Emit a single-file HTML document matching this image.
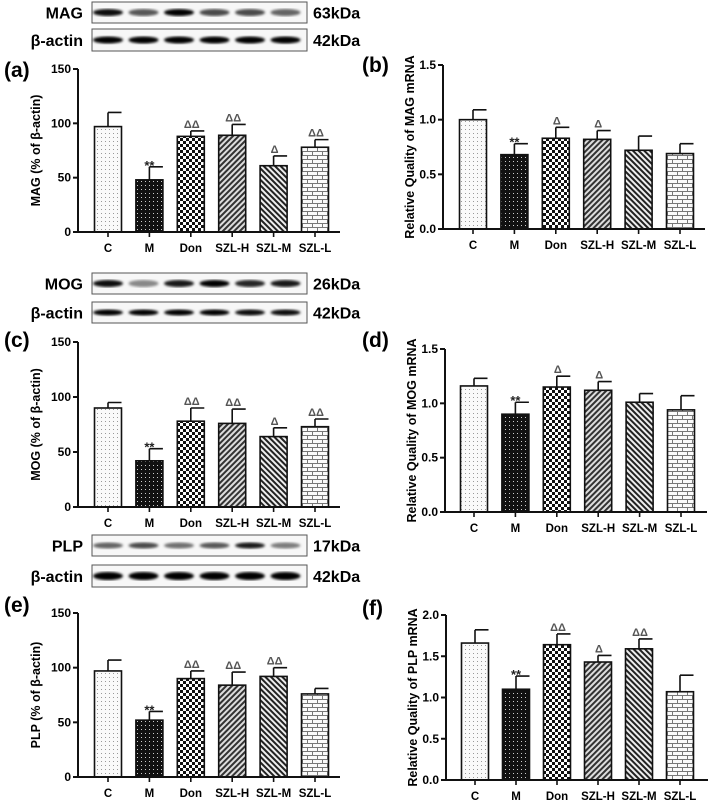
<!DOCTYPE html>
<html><head><meta charset="utf-8">
<style>
html,body{margin:0;padding:0;background:#fff;}
svg{display:block;font-family:"Liberation Sans",Arial,sans-serif;}
text{font-weight:bold;}
</style></head>
<body>
<svg id="fig" width="712" height="803" viewBox="0 0 712 803" xmlns="http://www.w3.org/2000/svg">
<defs>
<pattern id="pC" width="4" height="4" patternUnits="userSpaceOnUse"><rect width="4" height="4" fill="#fafafa"/><rect x="1" y="1" width="1" height="1" fill="#999"/></pattern>
<pattern id="pM" width="4" height="4" patternUnits="userSpaceOnUse"><rect width="4" height="4" fill="#111"/><rect x="1" y="1" width="1" height="1" fill="#ccc"/></pattern>
<pattern id="pDon" width="6" height="6" patternUnits="userSpaceOnUse"><rect width="6" height="6" fill="#fff"/><rect width="3" height="3" fill="#111"/><rect x="3" y="3" width="3" height="3" fill="#111"/></pattern>
<pattern id="pH" width="4" height="4" patternUnits="userSpaceOnUse" patternTransform="rotate(45)"><rect width="4" height="4" fill="#ddd"/><rect width="2" height="4" fill="#333"/></pattern>
<pattern id="pSM" width="4" height="4" patternUnits="userSpaceOnUse" patternTransform="rotate(-45)"><rect width="4" height="4" fill="#eee"/><rect width="2" height="4" fill="#222"/></pattern>
<pattern id="pL" width="10" height="8" patternUnits="userSpaceOnUse"><rect width="10" height="8" fill="#fafafa"/><rect y="3" width="10" height="1" fill="#777"/><rect y="7" width="10" height="1" fill="#777"/><rect x="2" y="0" width="1" height="3" fill="#777"/><rect x="7" y="4" width="1" height="3" fill="#777"/></pattern>
<filter id="blur"><feGaussianBlur stdDeviation="1.4"/></filter>
</defs>
</svg>
<script>
const categories = ["C","M","Don","SZL-H","SZL-M","SZL-L"];
const magWB = [97,48,88,89,61,78];
const magWBErr = [13,12,5,10,9,7];
const magWBSig = ["","**","ΔΔ","ΔΔ","Δ","ΔΔ"];
const magMRNA = [1.0,0.68,0.83,0.82,0.72,0.69];
const magMRNAErr = [0.09,0.1,0.1,0.08,0.13,0.09];
const magMRNASig = ["","**","Δ","Δ","",""];
const mogWB = [90,42,78,76,64,73];
const mogWBErr = [5,11,12,13,8,7];
const mogWBSig = ["","**","ΔΔ","ΔΔ","Δ","ΔΔ"];
const mogMRNA = [1.16,0.90,1.15,1.12,1.01,0.94];
const mogMRNAErr = [0.07,0.11,0.1,0.08,0.08,0.13];
const mogMRNASig = ["","**","Δ","Δ","",""];
const plpWB = [97,52,90,84,92,76];
const plpWBErr = [10,8,7,12,8,5];
const plpWBSig = ["","**","ΔΔ","ΔΔ","ΔΔ",""];
const plpMRNA = [1.66,1.10,1.64,1.43,1.59,1.07];
const plpMRNAErr = [0.16,0.16,0.13,0.08,0.12,0.2];
const plpMRNASig = ["","**","ΔΔ","Δ","ΔΔ",""];
const wbTicks = ["0","50","100","150"];
const mrnaTicks15 = ["0.0","0.5","1.0","1.5"];
const mrnaTicks20 = ["0.0","0.5","1.0","1.5","2.0"];
const magBand = [0.95,0.65,1,0.7,0.7,0.6];
const mogBand = [0.95,0.45,0.9,1,0.85,0.9];
const plpBand = [0.6,0.7,0.55,0.65,0.9,0.5];
const actinMAG = [1,1,1,1,1,1];
const actinMOG = [1,1,1,1,0.95,0.95];
const actinPLP = [1,1,1,1,1,1];

const NS="http://www.w3.org/2000/svg";
const svg=document.getElementById('fig');
const fills=["url(#pC)","url(#pM)","url(#pDon)","url(#pH)","url(#pSM)","url(#pL)"];
function el(tag,attrs,parent){const e=document.createElementNS(NS,tag);for(const k in attrs)e.setAttribute(k,attrs[k]);(parent||svg).appendChild(e);return e;}
function txt(s,attrs,parent){const t=el('text',attrs,parent);t.textContent=s;return t;}

function chart(o){
  const g=el('g',{});
  
  
  const ticksN=o.ticks.length-1;
  const yS=v=>o.y0-(v/o.max)*(o.y0-o.yTop);
  const xS=i=>o.c0+i*o.step;
  const bw=27;
  const pl=txt(o.letter,{x:o.lx,y:o.ly,'font-size':21},g);
  
  
  const yt=txt(o.ytitle,{x:0,y:0,'font-size':12.5,'text-anchor':'middle',transform:`translate(${o.tx},${(o.y0+o.yTop)/2}) rotate(-90)`},g);
  
  
  o.vals.forEach((v,i)=>{
    const cx=xS(i), top=yS(v);
    const b=el('rect',{x:cx-bw/2,y:top,width:bw,height:o.y0-top,fill:fills[i],stroke:'#111','stroke-width':1.6},g);
    
    
    const et=yS(v+o.errs[i]);
    const e=el('path',{d:`M${cx},${top} V${et} M${cx},${et} H${cx+bw/2}`,stroke:'#111','stroke-width':1.6,fill:'none'},g);
    
    
    if(o.sig[i]){
      const star=o.sig[i]==='**';
      const s=txt(o.sig[i],{x:cx+(star?0:1),y:et-(star?-3:3),'font-size':star?13:11,'text-anchor':'middle',fill:star?'#222':'#555','font-weight':'normal'},g);
      
      
    }
    el('line',{x1:cx,x2:cx,y1:o.y0,y2:o.y0+5,stroke:'#111','stroke-width':1.6},g);
    const lb=txt(categories[i],{x:cx,y:o.y0+20,'font-size':11.5,'text-anchor':'middle'},g);
    
    
  });
  const ax=el('path',{d:`M${o.ax},${o.yTop} V${o.y0} H${o.ax+262}`,stroke:'#111','stroke-width':2,fill:'none'},g);
  
  
  o.ticks.forEach((t,k)=>{
    const y=o.y0-(k/ticksN)*(o.y0-o.yTop);
    el('line',{x1:o.ax-5,x2:o.ax,y1:y,y2:y,stroke:'#111','stroke-width':2},g);
    const tl=txt(t,{x:o.ax-7,y:y+4,'font-size':12,'text-anchor':'end'},g);
    
    
  });
}

function blot(o){
  const g=el('g',{});
  
  
  el('rect',{x:92,y:o.y,width:215,height:o.h,fill:'#f7f7f7',stroke:'#555','stroke-width':1},g);
  o.bands.forEach((a,i)=>{
    const cx=108+i*35.5;
    const b=el('ellipse',{cx:cx,cy:o.y+o.h/2,rx:15,ry:o.ry,fill:'#000','fill-opacity':a,filter:'url(#blur)'},g);
    
    
  });
  const l=txt(o.label,{x:83,y:o.y+o.h/2+6,'font-size':16,'text-anchor':'end'},g);
  
  
  const k=txt(o.kda,{x:313,y:o.y+o.h/2+6,'font-size':16},g);
  
  
}

blot({name:'mag-blot',y:2,h:21,bands:magBand,ry:3.5,label:'MAG',kda:'63kDa'});
blot({name:'mag-actin-blot',y:29,h:22,bands:actinMAG,ry:3.5,label:'β-actin',kda:'42kDa'});
blot({name:'mog-blot',y:273,h:21,bands:mogBand,ry:3.5,label:'MOG',kda:'26kDa'});
blot({name:'mog-actin-blot',y:302,h:21,bands:actinMOG,ry:3,label:'β-actin',kda:'42kDa'});
blot({name:'plp-blot',y:535,h:21,bands:plpBand,ry:3,label:'PLP',kda:'17kDa'});
blot({name:'plp-actin-blot',y:565,h:22,bands:actinPLP,ry:4,label:'β-actin',kda:'42kDa'});

chart({name:'chart-a',letter:'(a)',lx:4,ly:77,ytitle:'MAG (% of β-actin)',tx:40,ax:78,y0:232,yTop:69,max:150,ticks:wbTicks,c0:108,step:41.4,vals:magWB,errs:magWBErr,sig:magWBSig});
chart({name:'chart-b',letter:'(b)',lx:362,ly:72,ytitle:'Relative Quality of MAG mRNA',tx:414,ax:443,y0:229,yTop:65,max:1.5,ticks:mrnaTicks15,c0:473,step:41.4,vals:magMRNA,errs:magMRNAErr,sig:magMRNASig});
chart({name:'chart-c',letter:'(c)',lx:4,ly:347,ytitle:'MOG (% of β-actin)',tx:40,ax:78,y0:507,yTop:342,max:150,ticks:wbTicks,c0:108,step:41.4,vals:mogWB,errs:mogWBErr,sig:mogWBSig});
chart({name:'chart-d',letter:'(d)',lx:362,ly:347,ytitle:'Relative Quality of MOG mRNA',tx:416,ax:445,y0:512,yTop:349,max:1.5,ticks:mrnaTicks15,c0:474,step:41.4,vals:mogMRNA,errs:mogMRNAErr,sig:mogMRNASig});
chart({name:'chart-e',letter:'(e)',lx:4,ly:612,ytitle:'PLP (% of β-actin)',tx:40,ax:78,y0:777,yTop:613,max:150,ticks:wbTicks,c0:108,step:41.4,vals:plpWB,errs:plpWBErr,sig:plpWBSig});
chart({name:'chart-f',letter:'(f)',lx:362,ly:615,ytitle:'Relative Quality of PLP mRNA',tx:417,ax:446,y0:780,yTop:615,max:2.0,ticks:mrnaTicks20,c0:475,step:41,vals:plpMRNA,errs:plpMRNAErr,sig:plpMRNASig});
</script>
</body></html>
